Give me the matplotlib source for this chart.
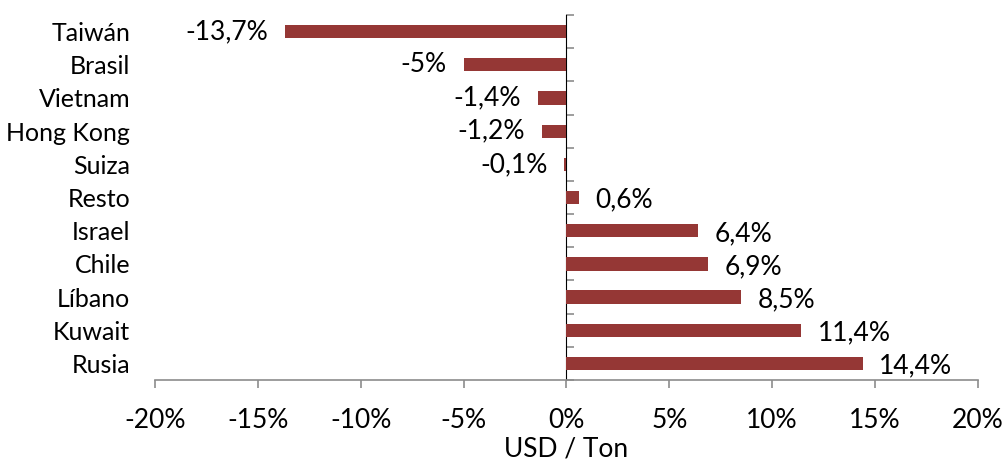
import matplotlib
matplotlib.use("Agg")
import matplotlib.pyplot as plt
import numpy as np

paises = ['Taiwán', 'Brasil', 'Vietnam', 'Hong Kong', 'Suiza', 'Resto',
          'Israel', 'Chile', 'Líbano', 'Kuwait', 'Rusia']
variacion = [-13.7, -5, -1.4, -1.2, -0.1, 0.6, 6.4, 6.9, 8.5, 11.4, 14.4]
etiquetas = ['-13,7%', '-5%', '-1,4%', '-1,2%', '-0,1%', '0,6%',
             '6,4%', '6,9%', '8,5%', '11,4%', '14,4%']
xticks = [-20, -15, -10, -5, 0, 5, 10, 15, 20]

plt.rcParams['font.family'] = ['Lato', 'DejaVu Sans']
gris = '#8c8c8c'
rojo = '#953735'

fig = plt.figure(figsize=(10.07, 4.62), dpi=100)
ax = fig.add_axes([0.154, 0.1775, 0.817, 0.79])

y = np.arange(len(paises))
ax.barh(y, variacion, height=0.4, color=rojo)
ax.set_ylim(len(paises) - 0.5, -0.5)
ax.set_xlim(-20, 20)

for yi, v, t in zip(y, variacion, etiquetas):
    if v < 0:
        ax.annotate(t, (v, yi), xytext=(-12, 0), textcoords='offset points',
                    ha='right', va='center', fontsize=19)
    else:
        ax.annotate(t, (v, yi), xytext=(12, -2), textcoords='offset points',
                    ha='left', va='center', fontsize=19)

ax.set_xticks(xticks)
ax.set_xticklabels(['%d%%' % x for x in xticks], fontsize=19)
ax.set_yticks(y)
ax.set_yticklabels(paises, fontsize=18)
ax.tick_params(axis='y', length=0, pad=18)
ax.tick_params(axis='x', length=6, width=1.2, color=gris, pad=14)

for s in ['top', 'right', 'left']:
    ax.spines[s].set_visible(False)
ax.spines['bottom'].set_color(gris)
ax.spines['bottom'].set_linewidth(1.2)

# eje vertical en 0
sec = ax.secondary_yaxis(0.5)
sec.set_yticks(np.arange(len(paises) + 1) - 0.5)
sec.set_yticklabels([])
sec.tick_params(axis='y', length=6, width=1.2, color=gris)
sec.spines['left'].set_color(gris)
sec.spines['left'].set_linewidth(1.2)

ax.set_xlabel('USD / Ton', fontsize=19, labelpad=3)

fig.savefig('out.png', dpi=100)
